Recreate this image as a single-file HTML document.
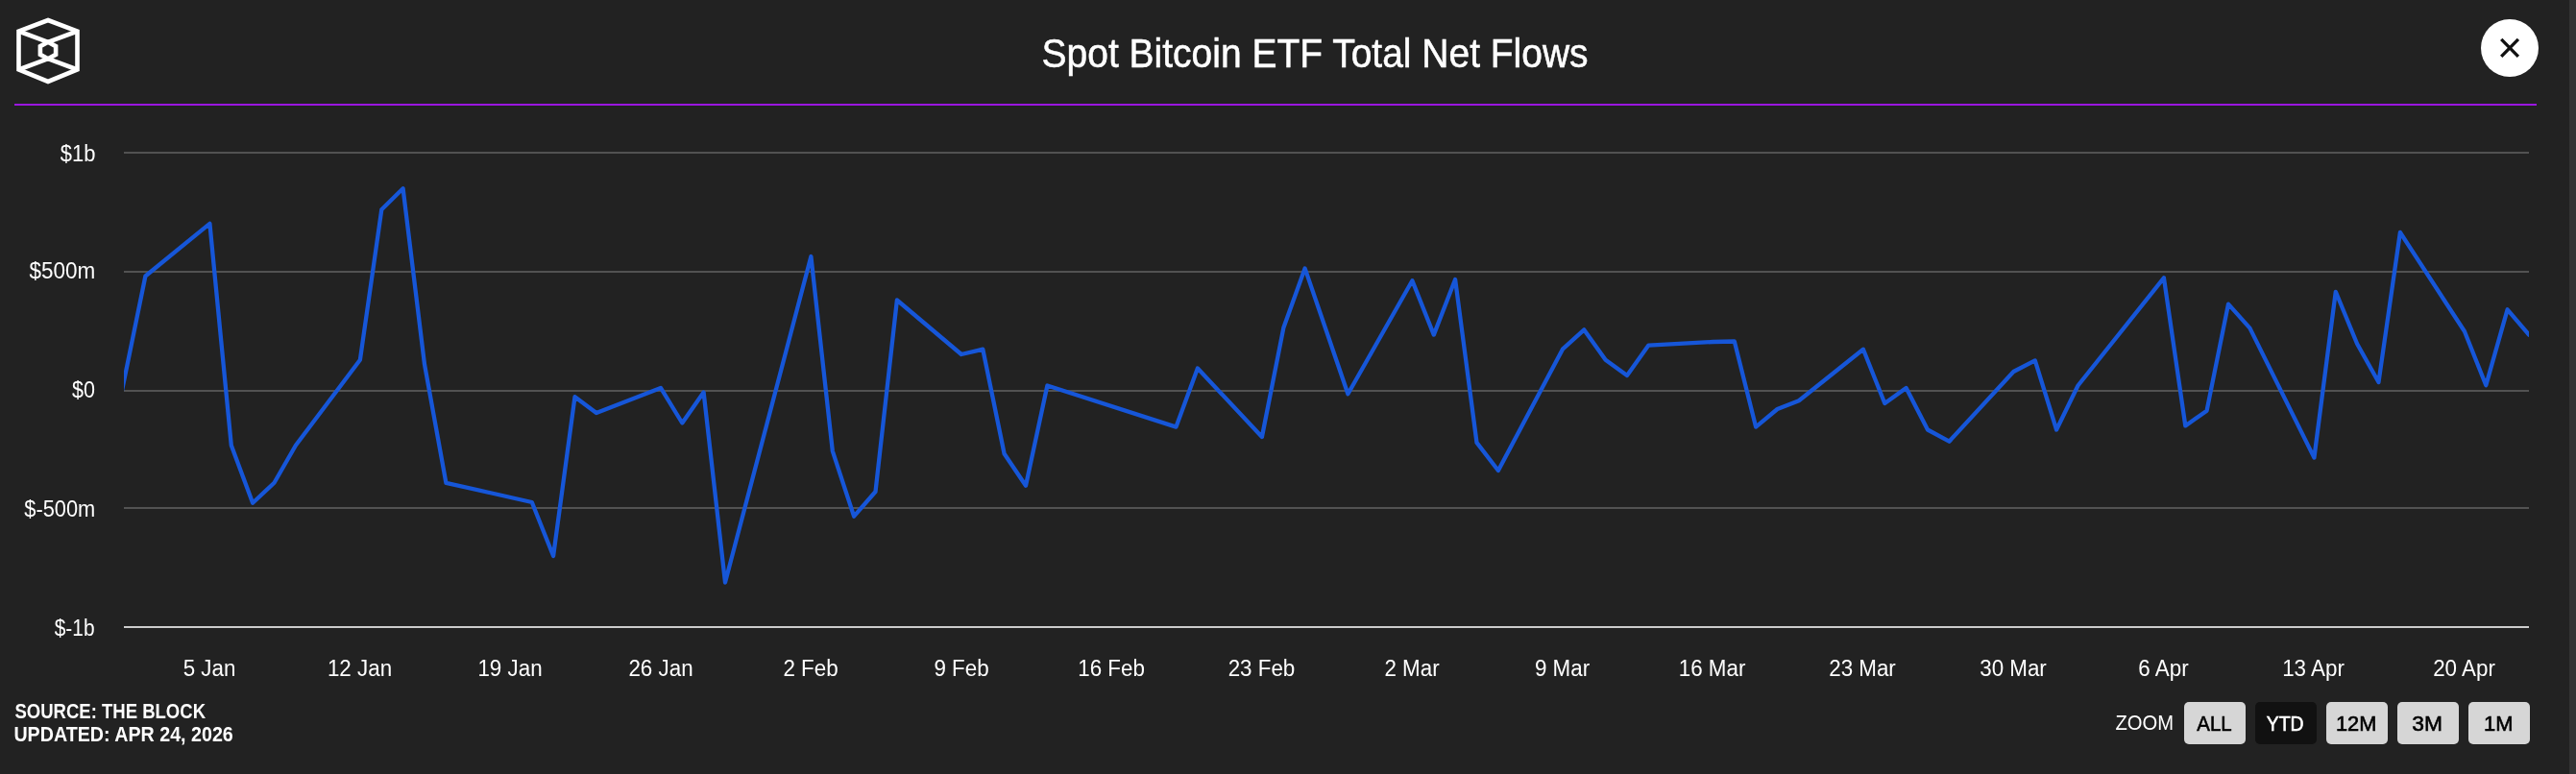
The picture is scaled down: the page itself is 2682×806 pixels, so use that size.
<!DOCTYPE html>
<html><head><meta charset="utf-8"><style>
html,body{margin:0;padding:0;}
body{width:2682px;height:806px;background:#222222;position:relative;overflow:hidden;}
svg{position:absolute;left:0;top:0;}
.txt{will-change:transform;}
text{font-family:"Liberation Sans",sans-serif;white-space:pre;}
</style></head><body>
<svg width="2682" height="806" viewBox="0 0 2682 806">
<rect x="2675" y="0" width="7" height="806" fill="#333333"/>
<g fill="none" stroke="#fff" stroke-width="4.6" stroke-linejoin="miter" stroke-miterlimit="3">
<path d="M50 21 L80.5 32.5 L80.5 72.5 L50 85 L19.5 72.5 L19.5 32.5 Z"/>
<path d="M19.5 32.5 L50 43.8 L80.5 32.5 M19.5 72.5 L50 61.2 L80.5 72.5"/>
<path d="M50 43.8 L58.1 48.2 L58.1 56.8 L50 61.2 L41.9 56.8 L41.9 48.2 Z"/>
</g>
<rect x="15" y="108" width="2626" height="2" fill="#9a16e0"/>
<circle cx="2613" cy="50" r="30" fill="#fff"/>
<path d="M2604.2 40.8 L2621.9 58.8 M2621.9 40.8 L2604.2 58.8" stroke="#111" stroke-width="3.3" fill="none"/>
<rect x="129" y="158" width="2504" height="2" fill="#525252"/><rect x="129" y="282" width="2504" height="2" fill="#525252"/><rect x="129" y="406" width="2504" height="2" fill="#525252"/><rect x="129" y="528" width="2504" height="2" fill="#525252"/><rect x="129" y="652" width="2504" height="2" fill="#cccccc"/>
<defs><clipPath id="pc"><rect x="129" y="100" width="2504" height="600"/></clipPath></defs>
<path d="M106.6 506.5 L151.4 287.5 L218.4 232.8 L240.8 463.8 L263.1 523.7 L285.5 502.8 L307.9 463.8 L374.9 374.8 L397.3 218.3 L419.6 196.2 L442.0 379.4 L464.4 502.8 L553.8 523.0 L576.1 579.0 L598.5 413.2 L620.9 430.0 L687.9 403.9 L710.3 440.5 L732.6 408.5 L755.0 606.5 L844.4 267.0 L866.8 469.6 L889.1 537.7 L911.5 512.0 L933.9 312.5 L1000.9 369.0 L1023.3 363.7 L1045.6 472.5 L1068.0 505.7 L1090.4 401.5 L1224.5 444.6 L1246.9 383.5 L1313.9 455.0 L1336.3 341.6 L1358.6 279.4 L1403.4 410.3 L1470.4 292.2 L1492.8 348.6 L1515.1 291.0 L1537.5 460.9 L1559.9 490.0 L1626.9 363.7 L1649.3 343.4 L1671.6 374.8 L1694.0 391.0 L1716.4 359.6 L1783.4 356.0 L1805.8 355.5 L1828.1 444.6 L1850.5 426.0 L1872.9 417.2 L1939.9 363.7 L1962.3 420.0 L1984.6 403.9 L2007.0 447.5 L2029.4 459.7 L2096.4 387.0 L2118.8 375.4 L2141.1 447.5 L2163.5 401.5 L2252.9 289.3 L2275.3 443.4 L2297.6 427.7 L2320.0 316.6 L2342.4 341.6 L2409.4 476.6 L2431.8 303.8 L2454.1 358.0 L2476.5 398.0 L2498.9 242.0 L2565.9 345.0 L2588.3 401.2 L2610.6 322.3 L2633.0 348.6" fill="none" stroke="#1656d8" stroke-width="4.3" stroke-linejoin="round" stroke-linecap="round" clip-path="url(#pc)"/>
<rect x="2274" y="731" width="64" height="44" rx="5" fill="#d6d6d6"/><rect x="2348" y="731" width="64" height="44" rx="5" fill="#111111"/><rect x="2422" y="731" width="64" height="44" rx="5" fill="#d6d6d6"/><rect x="2496" y="731" width="64" height="44" rx="5" fill="#d6d6d6"/><rect x="2570" y="731" width="64" height="44" rx="5" fill="#d6d6d6"/>
</svg>
<svg class="txt" width="2682" height="806" viewBox="0 0 2682 806">
<text x="1084.58" y="69.80" font-size="42.2" font-weight="400" textLength="569.02" lengthAdjust="spacingAndGlyphs" fill="#fff" stroke="#fff" stroke-width="0.5">Spot Bitcoin ETF Total Net Flows</text><text x="62.74" y="168.00" font-size="23.0" font-weight="400" textLength="36.59" lengthAdjust="spacingAndGlyphs" fill="#fff">$1b</text><text x="30.40" y="290.00" font-size="23.0" font-weight="400" textLength="68.72" lengthAdjust="spacingAndGlyphs" fill="#fff">$500m</text><text x="75.10" y="414.00" font-size="23.0" font-weight="400" textLength="23.92" lengthAdjust="spacingAndGlyphs" fill="#fff">$0</text><text x="25.35" y="538.00" font-size="23.0" font-weight="400" textLength="73.92" lengthAdjust="spacingAndGlyphs" fill="#fff">$-500m</text><text x="56.75" y="662.00" font-size="23.0" font-weight="400" textLength="41.76" lengthAdjust="spacingAndGlyphs" fill="#fff">$-1b</text><text x="190.63" y="704.00" font-size="23.1" font-weight="400" textLength="54.73" lengthAdjust="spacingAndGlyphs" fill="#fff">5 Jan</text><text x="340.92" y="704.00" font-size="23.1" font-weight="400" textLength="67.17" lengthAdjust="spacingAndGlyphs" fill="#fff">12 Jan</text><text x="497.43" y="704.00" font-size="23.1" font-weight="400" textLength="67.17" lengthAdjust="spacingAndGlyphs" fill="#fff">19 Jan</text><text x="654.42" y="704.00" font-size="23.1" font-weight="400" textLength="67.17" lengthAdjust="spacingAndGlyphs" fill="#fff">26 Jan</text><text x="815.41" y="704.00" font-size="23.1" font-weight="400" textLength="57.21" lengthAdjust="spacingAndGlyphs" fill="#fff">2 Feb</text><text x="972.42" y="704.00" font-size="23.1" font-weight="400" textLength="57.21" lengthAdjust="spacingAndGlyphs" fill="#fff">9 Feb</text><text x="1122.20" y="704.00" font-size="23.1" font-weight="400" textLength="69.65" lengthAdjust="spacingAndGlyphs" fill="#fff">16 Feb</text><text x="1278.68" y="704.00" font-size="23.1" font-weight="400" textLength="69.65" lengthAdjust="spacingAndGlyphs" fill="#fff">23 Feb</text><text x="1441.42" y="704.00" font-size="23.1" font-weight="400" textLength="57.18" lengthAdjust="spacingAndGlyphs" fill="#fff">2 Mar</text><text x="1597.93" y="704.00" font-size="23.1" font-weight="400" textLength="57.18" lengthAdjust="spacingAndGlyphs" fill="#fff">9 Mar</text><text x="1747.72" y="704.00" font-size="23.1" font-weight="400" textLength="69.62" lengthAdjust="spacingAndGlyphs" fill="#fff">16 Mar</text><text x="1904.21" y="704.00" font-size="23.1" font-weight="400" textLength="69.62" lengthAdjust="spacingAndGlyphs" fill="#fff">23 Mar</text><text x="2061.21" y="704.00" font-size="23.1" font-weight="400" textLength="69.62" lengthAdjust="spacingAndGlyphs" fill="#fff">30 Mar</text><text x="2226.37" y="704.00" font-size="23.1" font-weight="400" textLength="52.25" lengthAdjust="spacingAndGlyphs" fill="#fff">6 Apr</text><text x="2376.18" y="704.00" font-size="23.1" font-weight="400" textLength="64.69" lengthAdjust="spacingAndGlyphs" fill="#fff">13 Apr</text><text x="2533.17" y="704.00" font-size="23.1" font-weight="400" textLength="64.69" lengthAdjust="spacingAndGlyphs" fill="#fff">20 Apr</text><text x="15.38" y="748.00" font-size="22" font-weight="700" textLength="198.63" lengthAdjust="spacingAndGlyphs" fill="#fff">SOURCE: THE BLOCK</text><text x="14.39" y="772.00" font-size="22" font-weight="700" textLength="228.42" lengthAdjust="spacingAndGlyphs" fill="#fff">UPDATED: APR 24, 2026</text><text x="2202.56" y="759.60" font-size="21.5" font-weight="400" textLength="60.52" lengthAdjust="spacingAndGlyphs" fill="#fff">ZOOM</text><text x="2287.30" y="760.60" font-size="22" font-weight="400" textLength="36.37" lengthAdjust="spacingAndGlyphs" fill="#000" stroke="#000" stroke-width="0.6">ALL</text><text x="2359.72" y="760.60" font-size="22" font-weight="400" textLength="38.88" lengthAdjust="spacingAndGlyphs" fill="#fff" stroke="#fff" stroke-width="0.6">YTD</text><text x="2431.94" y="760.60" font-size="22" font-weight="400" textLength="42.46" lengthAdjust="spacingAndGlyphs" fill="#000" stroke="#000" stroke-width="0.6">12M</text><text x="2511.35" y="760.60" font-size="22" font-weight="400" textLength="31.65" lengthAdjust="spacingAndGlyphs" fill="#000" stroke="#000" stroke-width="0.6">3M</text><text x="2586.02" y="760.60" font-size="22" font-weight="400" textLength="30.50" lengthAdjust="spacingAndGlyphs" fill="#000" stroke="#000" stroke-width="0.6">1M</text>
</svg>
</body></html>
